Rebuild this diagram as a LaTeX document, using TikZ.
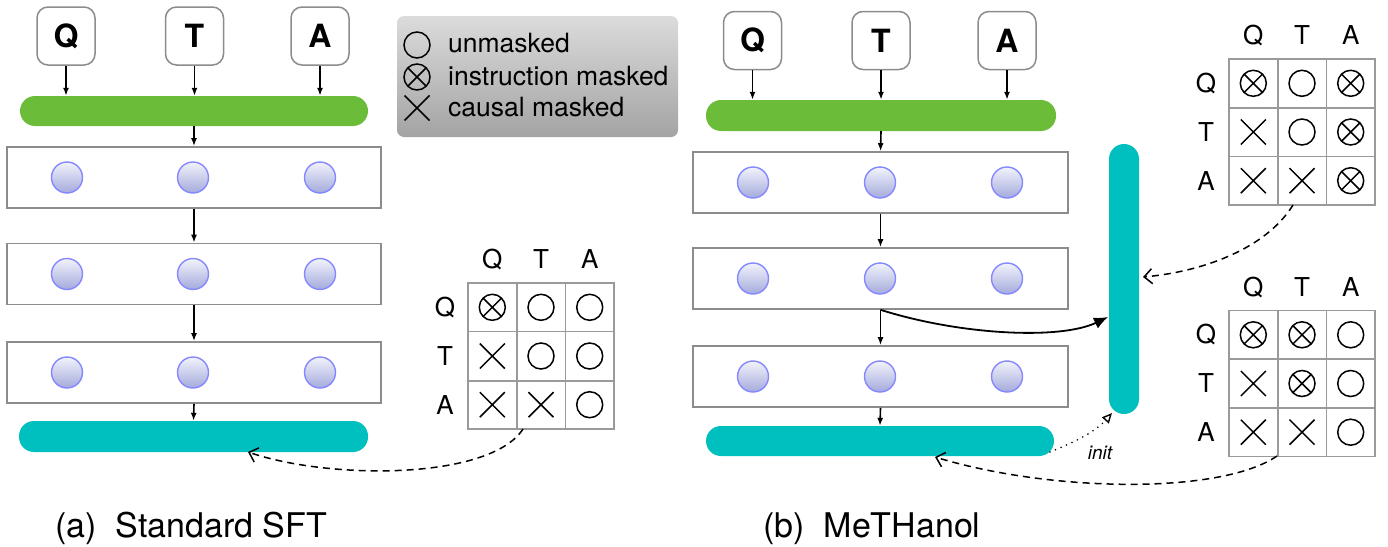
\documentclass[tikz,border=0pt]{standalone}
\usepackage{fontspec}
\setmainfont{TeX Gyre Heros}
\usetikzlibrary{arrows.meta}
\definecolor{grbar}{HTML}{6BBC38}
\definecolor{tlbar}{HTML}{00BFBF}
\definecolor{bordgray}{HTML}{8C8C8C}
\definecolor{gridgray}{HTML}{9A9A9A}
\definecolor{nrtop}{HTML}{F2F3FB}
\definecolor{nrbot}{HTML}{A4AADC}
\definecolor{nrline}{HTML}{8487FF}
\begin{document}
\begin{tikzpicture}[x=1pt,y=-1pt,
  tok/.style={draw=bordgray,line width=1.5pt,rounded corners=11pt,fill=white,
    minimum width=58pt,minimum height=58pt,inner sep=0pt,
    font=\fontsize{32}{36}\selectfont\bfseries},
  hbar/.style={rounded corners=15pt,minimum width=348pt,minimum height=30pt,inner sep=0pt},
  layerbox/.style={draw=bordgray,line width=1.6pt,minimum width=374pt,minimum height=61pt,inner sep=0pt},
  neuron/.style={circle,draw=nrline,line width=1.4pt,minimum size=31pt,inner sep=0pt,
    top color=nrtop,bottom color=nrbot},
  gridln/.style={draw=gridgray,line width=1.6pt},
  lab/.style={font=\fontsize{26}{30}\selectfont,inner sep=0pt},
  legtxt/.style={font=\fontsize{26.5}{30}\selectfont,inner sep=0pt,anchor=base west},
  captxt/.style={font=\fontsize{34}{40}\selectfont,inner sep=0pt,anchor=base west},
  arr/.style={line width=1.6pt,-{Latex[length=8pt,width=6pt]}},
  dasharr/.style={line width=1.5pt,dash pattern=on 7pt off 5pt,-{Straight Barb[length=8pt,width=15pt,line width=1.5pt]}},
  symline/.style={line width=1.5pt,black},
  om/.pic={\draw[symline] (0,0) circle (13pt);},
  im/.pic={\draw[symline] (0,0) circle (13pt) (-9.2,-9.2)--(9.2,9.2) (-9.2,9.2)--(9.2,-9.2);},
  xm/.pic={\draw[symline] (-12.5,-12.5)--(12.5,12.5) (-12.5,12.5)--(12.5,-12.5);}
]
\useasboundingbox (0,0) rectangle (1388,546);

% ---------------- (a) Standard SFT ----------------
\node[tok] (aq) at (66,36) {Q};
\node[tok] (at) at (194.5,36) {T};
\node[tok] (aa) at (320,36) {A};
\node[hbar,fill=grbar] (ag) at (194,111) {};
\node[layerbox] (al1) at (194,177.5) {};
\node[layerbox] (al2) at (194,274) {};
\node[layerbox] (al3) at (194,372.5) {};
\node[hbar,fill=tlbar,minimum width=349pt,minimum height=31pt] (at2) at (193.5,436.5) {};
\foreach \r/\y in {1/177.5,2/274,3/372.5}{
  \node[neuron] (an\r a) at (67,\y) {};
  \node[neuron] (an\r b) at (193,\y) {};
  \node[neuron] (an\r c) at (320,\y) {};
}
\draw[arr] (aq.south) -- (aq.south |- ag.north);
\draw[arr] (at.south) -- (at.south |- ag.north);
\draw[arr] (aa.south) -- (aa.south |- ag.north);
\draw[arr] (ag.south) -- (al1.north);
\draw[arr] (al1.south) -- (al2.north);
\draw[arr] (al2.south) -- (al3.north);
\draw[arr] (al3.south) -- (at2.north);

% left mask matrix
\node[gridln,minimum size=146pt,inner sep=0pt] (am) at (541,356) {};
\draw[gridln] (516.7,283) -- (516.7,429) (565.3,283) -- (565.3,429)
  (468,331.3) -- (614,331.3) (468,380.7) -- (614,380.7);
\node[lab] (amcq) at (492.3,259) {Q};
\node[lab] (amct) at (541,259) {T};
\node[lab] (amca) at (589.7,259) {A};
\node[lab] (amrq) at (445,307.3) {Q};
\node[lab] (amrt) at (445,356) {T};
\node[lab] (amra) at (445,404.7) {A};
\pic at (492.3,307.3) {im}; \pic at (541,307.3) {om}; \pic at (589.7,307.3) {om};
\pic at (492.3,356) {xm};   \pic at (541,356) {om};   \pic at (589.7,356) {om};
\pic at (492.3,404.7) {xm}; \pic at (541,404.7) {xm}; \pic at (589.7,404.7) {om};
\coordinate (amout) at (523,429);
\coordinate (at2in) at (248,452);
\draw[dasharr] (amout) .. controls (490,480) and (330,480) .. (at2in);

\node[captxt] (capa) at (55,537) {(a)\hspace{19pt}Standard SFT};

% ---------------- legend ----------------
\node[rounded corners=7pt,top color=black!14,bottom color=black!36,
  minimum width=281pt,minimum height=121pt,inner sep=0pt] (legend) at (537.5,76.5) {};
\pic at (417,45) {om};
\pic at (417,77) {im};
\pic at (417,108) {xm};
\node[legtxt] (l1) at (448,52) {unmasked};
\node[legtxt] (l2) at (448,85) {instruction masked};
\node[legtxt] (l3) at (448,116) {causal masked};

% ---------------- (b) MeTHanol ----------------
\node[tok] (bq) at (752.5,40.5) {Q};
\node[tok] (bt) at (881,40.5) {T};
\node[tok] (ba) at (1007,40.5) {A};
\node[hbar,fill=grbar,minimum width=350pt,minimum height=31pt] (bg) at (881,115.5) {};
\node[layerbox,minimum width=375pt] (bl1) at (880.5,182.5) {};
\node[layerbox,minimum width=375pt] (bl2) at (880.5,278.5) {};
\node[layerbox,minimum width=375pt] (bl3) at (880.5,376.5) {};
\node[hbar,fill=tlbar] (bt2) at (880,441) {};
\node[fill=tlbar,rounded corners=15pt,minimum width=30pt,minimum height=270pt,inner sep=0pt] (bv) at (1124,279) {};
\foreach \r/\y in {1/182.5,2/278.5,3/376.5}{
  \node[neuron] (bn\r a) at (753,\y) {};
  \node[neuron] (bn\r b) at (880,\y) {};
  \node[neuron] (bn\r c) at (1007,\y) {};
}
\draw[arr] (bq.south) -- (bq.south |- bg.north);
\draw[arr] (bt.south) -- (bt.south |- bg.north);
\draw[arr] (ba.south) -- (ba.south |- bg.north);
\draw[arr] (bg.south) -- (bl1.north);
\draw[arr] (bl1.south) -- (bl2.north);
\draw[arr] (bl2.south) -- (bl3.north);
\draw[arr] (bl3.south) -- (bt2.north);
\coordinate (bvin) at (1108,317);
\draw[line width=1.8pt,-{Latex[length=14pt,width=12pt]}] (bl2.south) .. controls (960,335) and (1060,340) .. (bvin);

% init dotted arrow
\coordinate (bt2out) at (1050,452);
\coordinate (bvbot) at (1112,413);
\draw[line width=1.8pt,line cap=round,dash pattern=on 0pt off 6pt,
  -{Triangle[open,length=10pt,width=9pt,line width=1.4pt]}] (bt2out) .. controls (1075,442) and (1095,432) .. (bvbot);
\node[font=\fontsize{19}{21}\selectfont\itshape,inner sep=0pt] (init) at (1100,453) {init};

% right top matrix
\node[gridln,minimum size=146pt,inner sep=0pt] (bm1) at (1302,132) {};
\draw[gridln] (1277.7,59) -- (1277.7,205) (1326.3,59) -- (1326.3,205)
  (1229,107.7) -- (1375,107.7) (1229,156.3) -- (1375,156.3);
\node[lab] (b1cq) at (1253.3,35) {Q};
\node[lab] (b1ct) at (1302,35) {T};
\node[lab] (b1ca) at (1350.7,35) {A};
\node[lab] (b1rq) at (1206,83.3) {Q};
\node[lab] (b1rt) at (1206,132) {T};
\node[lab] (b1ra) at (1206,180.7) {A};
\pic at (1253.3,83.3) {im};  \pic at (1302,83.3) {om};  \pic at (1350.7,83.3) {im};
\pic at (1253.3,132) {xm};   \pic at (1302,132) {om};   \pic at (1350.7,132) {im};
\pic at (1253.3,180.7) {xm}; \pic at (1302,180.7) {xm}; \pic at (1350.7,180.7) {im};
\coordinate (bm1out) at (1293,205);
\coordinate (bvright) at (1143,277);
\draw[dasharr] (bm1out) .. controls (1265,250) and (1200,272) .. (bvright);

% right bottom matrix
\node[gridln,minimum size=146pt,inner sep=0pt] (bm2) at (1302,383.5) {};
\draw[gridln] (1277.7,310.5) -- (1277.7,456.5) (1326.3,310.5) -- (1326.3,456.5)
  (1229,359.2) -- (1375,359.2) (1229,407.8) -- (1375,407.8);
\node[lab] (b2cq) at (1253.3,287) {Q};
\node[lab] (b2ct) at (1302,287) {T};
\node[lab] (b2ca) at (1350.7,287) {A};
\node[lab] (b2rq) at (1206,334.8) {Q};
\node[lab] (b2rt) at (1206,383.5) {T};
\node[lab] (b2ra) at (1206,432.2) {A};
\pic at (1253.3,334.8) {im}; \pic at (1302,334.8) {im}; \pic at (1350.7,334.8) {om};
\pic at (1253.3,383.5) {xm}; \pic at (1302,383.5) {im}; \pic at (1350.7,383.5) {om};
\pic at (1253.3,432.2) {xm}; \pic at (1302,432.2) {xm}; \pic at (1350.7,432.2) {om};
\coordinate (bm2out) at (1277,456);
\coordinate (bt2in) at (935,457);
\draw[dasharr] (bm2out) .. controls (1220,495) and (1050,492) .. (bt2in);

\node[captxt] (capb) at (763,537) {(b)\hspace{19pt}MeTHanol};
\end{tikzpicture}
\end{document}
